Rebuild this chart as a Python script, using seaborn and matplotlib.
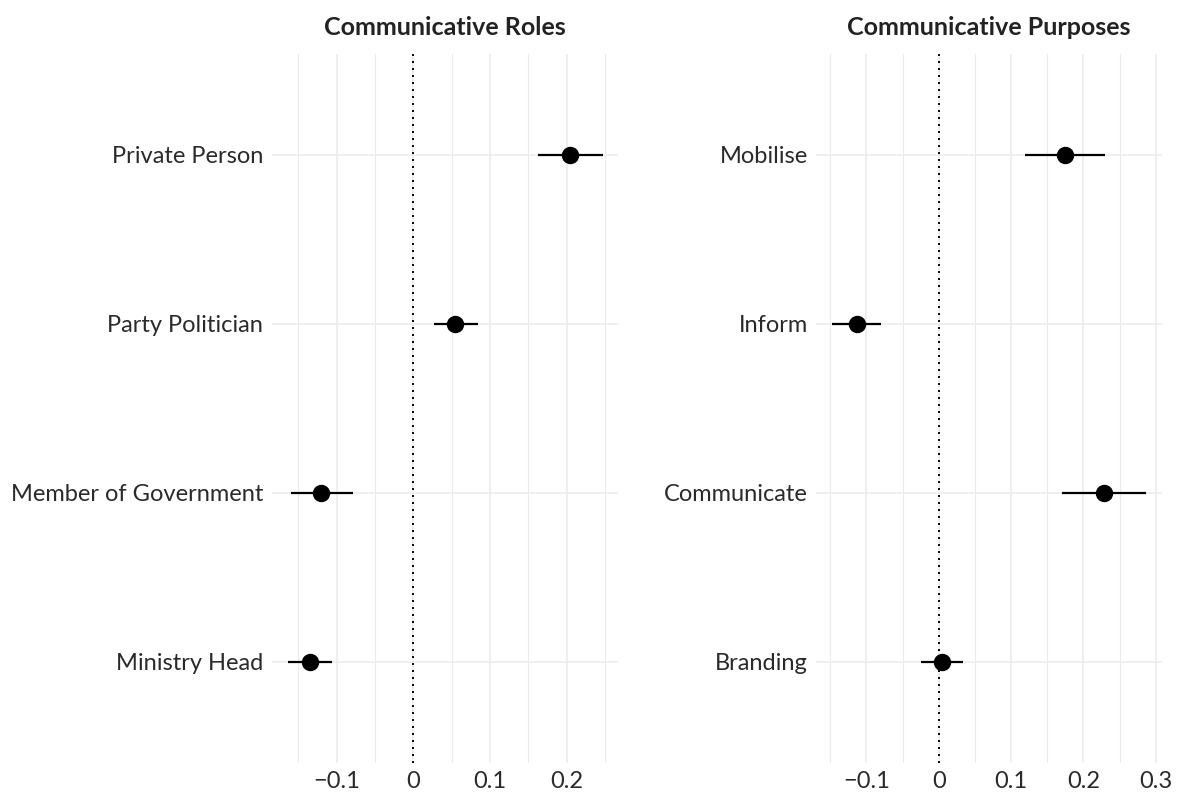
import matplotlib
matplotlib.use("Agg")
import matplotlib.pyplot as plt
from matplotlib.ticker import MultipleLocator, FixedLocator
import seaborn as sns
import pandas as pd

# Coefficient estimates with 95% intervals
role_terms = ["Private Person", "Party Politician", "Member of Government", "Ministry Head"]
role_est = [0.205, 0.055, -0.120, -0.135]
role_lo = [0.163, 0.027, -0.160, -0.164]
role_hi = [0.247, 0.084, -0.078, -0.106]

purpose_terms = ["Mobilise", "Inform", "Communicate", "Branding"]
purpose_est = [0.175, -0.113, 0.229, 0.005]
purpose_lo = [0.119, -0.148, 0.170, -0.024]
purpose_hi = [0.230, -0.080, 0.287, 0.034]

role_ticks = [-0.1, 0, 0.1, 0.2]
role_ticklabels = ["\u22120.1", "0", "0.1", "0.2"]
purpose_ticks = [-0.1, 0, 0.1, 0.2, 0.3]
purpose_ticklabels = ["\u22120.1", "0", "0.1", "0.2", "0.3"]

sns.set_theme(style="white")
plt.rcParams["font.family"] = ["Lato", "DejaVu Sans"]

fig = plt.figure(figsize=(11.78, 7.95), dpi=100)
ax_l = fig.add_axes([0.2306, 0.0403, 0.2937, 0.8924])
ax_r = fig.add_axes([0.6927, 0.0403, 0.2935, 0.8924])

GRID = "#EBEBEB"
TEXT = "#2a2a2a"


def draw_panel(ax, title, terms, est, lo, hi, ticks, ticklabels, xlim):
    df = pd.DataFrame({"term": terms, "estimate": est, "lo": lo, "hi": hi})
    # confidence intervals first so the points sit on top
    ax.hlines(y=range(len(terms)), xmin=df["lo"], xmax=df["hi"],
              color="black", lw=1.6, zorder=3)
    sns.pointplot(data=df, x="estimate", y="term", order=terms, orient="h",
                  linestyle="none", errorbar=None, color="black",
                  markers="o", markersize=10.5, ax=ax, zorder=4)
    ax.axvline(0, color="black", lw=1.4, linestyle=(0, (1, 2.6)),
               dash_capstyle="butt", zorder=2)

    ax.set_xlim(*xlim)
    ax.set_ylim(len(terms) - 1 + 0.6, -0.6)
    ax.xaxis.set_major_locator(FixedLocator(ticks))
    ax.set_xticklabels(ticklabels)
    ax.xaxis.set_minor_locator(MultipleLocator(0.05))
    ax.grid(which="major", axis="both", color=GRID, lw=1.1, zorder=0)
    ax.grid(which="minor", axis="x", color=GRID, lw=0.8, zorder=0)
    ax.set_axisbelow(True)
    for s in ax.spines.values():
        s.set_visible(False)
    ax.tick_params(axis="both", which="both", length=0, labelsize=17,
                   labelcolor=TEXT)
    ax.tick_params(axis="x", pad=6)
    ax.tick_params(axis="y", pad=6)
    ax.set_xlabel("")
    ax.set_ylabel("")
    ax.set_title(title, fontsize=18, fontweight="bold", color="#222222", pad=13)


draw_panel(ax_l, "Communicative Roles", role_terms, role_est, role_lo, role_hi,
           role_ticks, role_ticklabels, (-0.1847, 0.2666))
draw_panel(ax_r, "Communicative Purposes", purpose_terms, purpose_est, purpose_lo,
           purpose_hi, purpose_ticks, purpose_ticklabels, (-0.1697, 0.3084))

fig.savefig("out.png", dpi=100, facecolor="white")
